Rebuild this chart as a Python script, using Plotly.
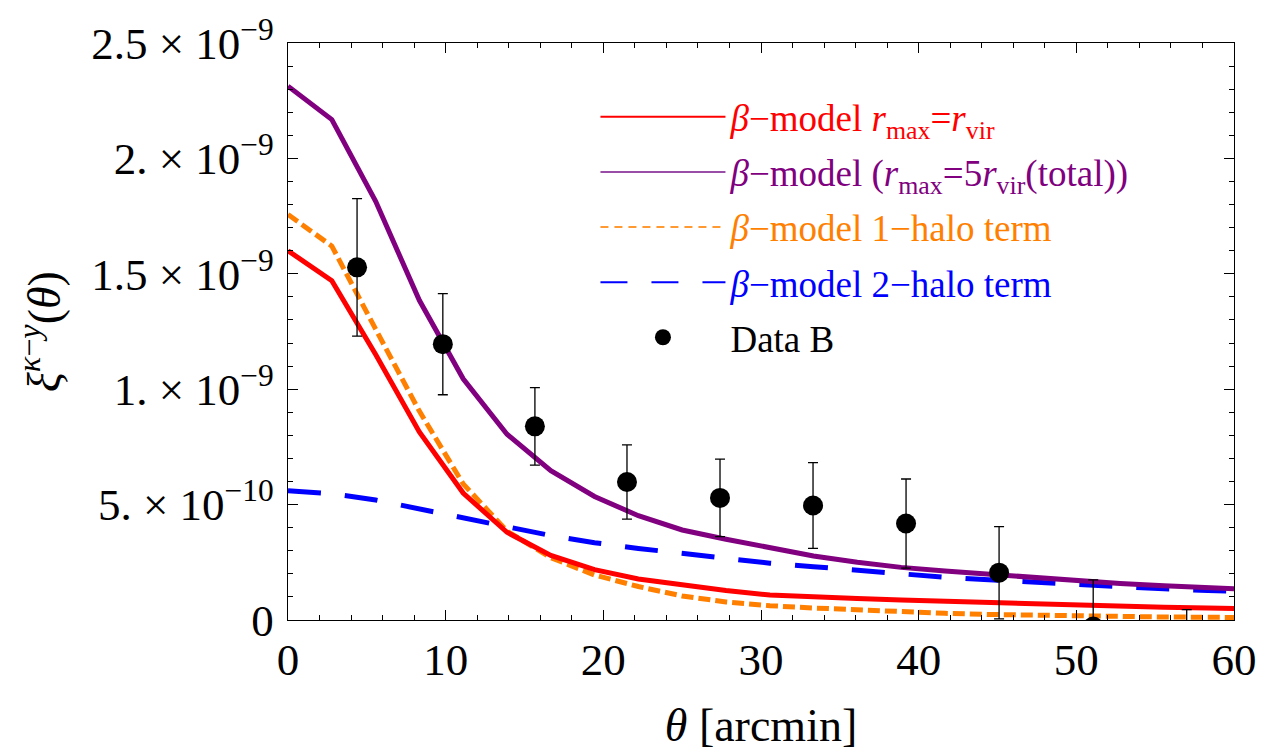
import plotly.graph_objects as go

# ---- data ----
theta = [0, 2.78, 5.56, 8.33, 11.11, 13.89, 16.67, 19.44, 22.22, 25.0, 27.78,
         30.56, 33.33, 36.11, 38.89, 41.67, 44.44, 47.22, 50.0, 52.78, 55.56, 58.33, 60]

red_rvir = [1.60e-9, 1.47e-9, 1.15e-9, 0.815e-9, 0.55e-9, 0.38e-9, 0.28e-9, 0.218e-9,
            0.178e-9, 0.152e-9, 0.128e-9, 0.108e-9, 0.099e-9, 0.093e-9, 0.087e-9,
            0.081e-9, 0.075e-9, 0.068e-9, 0.063e-9, 0.059e-9, 0.055e-9, 0.052e-9, 0.050e-9]

purple_total = [2.313e-9, 2.168e-9, 1.814e-9, 1.385e-9, 1.045e-9, 0.805e-9, 0.647e-9,
                0.535e-9, 0.452e-9, 0.39e-9, 0.35e-9, 0.312e-9, 0.277e-9, 0.25e-9,
                0.228e-9, 0.212e-9, 0.199e-9, 0.184e-9, 0.168e-9, 0.158e-9, 0.148e-9,
                0.14e-9, 0.135e-9]

orange_1halo = [1.757e-9, 1.62e-9, 1.26e-9, 0.905e-9, 0.59e-9, 0.385e-9, 0.27e-9,
                0.195e-9, 0.145e-9, 0.104e-9, 0.078e-9, 0.062e-9, 0.052e-9, 0.043e-9,
                0.035e-9, 0.029e-9, 0.024e-9, 0.020e-9, 0.017e-9, 0.015e-9, 0.013e-9,
                0.012e-9, 0.011e-9]

blue_2halo = [0.56e-9, 0.547e-9, 0.52e-9, 0.483e-9, 0.445e-9, 0.404e-9, 0.366e-9,
              0.335e-9, 0.31e-9, 0.287e-9, 0.266e-9, 0.246e-9, 0.231e-9, 0.214e-9,
              0.197e-9, 0.185e-9, 0.174e-9, 0.163e-9, 0.152e-9, 0.143e-9, 0.135e-9,
              0.128e-9, 0.124e-9]

data_theta = [4.38, 9.82, 15.66, 21.5, 27.4, 33.3, 39.2, 45.1, 51.07, 57.0]
data_xi = [1.528e-9, 1.195e-9, 0.839e-9, 0.598e-9, 0.529e-9, 0.496e-9, 0.418e-9,
           0.205e-9, -0.028e-9, -0.155e-9]
data_err = [0.298e-9, 0.219e-9, 0.168e-9, 0.161e-9, 0.168e-9, 0.186e-9, 0.193e-9,
            0.200e-9, 0.202e-9, 0.200e-9]

y_tickvals = [0, 5e-10, 1e-9, 1.5e-9, 2e-9, 2.5e-9]
y_ticktext = ["0", "5. × 10<sup>−10</sup>", "1. × 10<sup>−9</sup>", "1.5 × 10<sup>−9</sup>",
              "2. × 10<sup>−9</sup>", "2.5 × 10<sup>−9</sup>"]
x_tickvals = [0, 10, 20, 30, 40, 50, 60]

names = [
    '<span style="color:#FF0000"><i>β</i>−model <i>r</i><sub>max</sub>=<i>r</i><sub>vir</sub></span>',
    '<span style="color:#800080"><i>β</i>−model (<i>r</i><sub>max</sub>=5<i>r</i><sub>vir</sub>(total))</span>',
    '<span style="color:#FF8000"><i>β</i>−model 1−halo term</span>',
    '<span style="color:#0000FF"><i>β</i>−model 2−halo term</span>',
    'Data B',
]

FONT = "Liberation Serif, Times New Roman, serif"

fig = go.Figure()

# plotted curves
fig.add_trace(go.Scatter(x=theta, y=orange_1halo, mode="lines", showlegend=False,
                         line=dict(color="#FF8000", width=5, dash="12px,5px")))
fig.add_trace(go.Scatter(x=theta, y=red_rvir, mode="lines", showlegend=False,
                         line=dict(color="#FF0000", width=5)))
fig.add_trace(go.Scatter(x=theta, y=blue_2halo, mode="lines", showlegend=False,
                         line=dict(color="#0000FF", width=5, dash="33px,24px")))
fig.add_trace(go.Scatter(x=theta, y=purple_total, mode="lines", showlegend=False,
                         line=dict(color="#800080", width=5)))
fig.add_trace(go.Scatter(x=data_theta, y=data_xi, mode="markers", showlegend=False,
                         marker=dict(color="black", size=20),
                         error_y=dict(type="data", array=data_err, color="black",
                                      thickness=1.3, width=5)))

# legend entries
fig.add_trace(go.Scatter(x=[None], y=[None], mode="lines", name=names[0], legendgroup="a",
                         line=dict(color="#FF0000", width=2)))
fig.add_trace(go.Scatter(x=[None], y=[None], mode="lines", name=names[1], legendgroup="b",
                         line=dict(color="#9A4DA6", width=2)))
fig.add_trace(go.Scatter(x=[None], y=[None], mode="lines", name=names[2], legendgroup="c",
                         line=dict(color="#FF9A33", width=2, dash="8px,6px")))
fig.add_trace(go.Scatter(x=[None], y=[None], mode="lines", name=names[3], legendgroup="d",
                         line=dict(color="#0000FF", width=2, dash="27px,24px")))
fig.add_trace(go.Scatter(x=[None], y=[None], mode="markers", name=names[4], legendgroup="e",
                         marker=dict(color="black", size=22)))

axis_common = dict(
    showline=True, linecolor="black", linewidth=1.3, mirror="allticks",
    ticks="inside", ticklen=10, tickwidth=1.2, tickcolor="black",
    showgrid=False, zeroline=False,
    tickfont=dict(family=FONT, size=45, color="black"),
)

fig.update_xaxes(range=[0, 60], tickvals=x_tickvals,
                 minor=dict(ticks="inside", ticklen=5, dtick=2, tick0=0, tickcolor="black",
                            tickwidth=1, showgrid=False),
                 title=dict(text="<i>θ</i> [arcmin]", font=dict(family=FONT, size=46, color="black"),
                            standoff=24),
                 ticklabelstandoff=0,
                 **axis_common)
fig.update_yaxes(range=[0, 2.5e-9], tickvals=y_tickvals, ticktext=y_ticktext,
                 minor=dict(ticks="inside", ticklen=5, dtick=1e-10, tick0=0, tickcolor="black",
                            tickwidth=1, showgrid=False),
                 title=dict(text="<i>ξ</i><sup><i>κ</i>−<i>y</i></sup>(<i>θ</i>)",
                            font=dict(family=FONT, size=46, color="black"), standoff=16),
                 ticklabelstandoff=4,
                 **axis_common)

fig.update_layout(
    width=1269, height=755,
    margin=dict(l=288, r=26, t=32, b=135),
    paper_bgcolor="white", plot_bgcolor="white",
    font=dict(family=FONT, color="black"),
    legend=dict(x=0.325, y=0.925, xanchor="left", yanchor="top",
                bgcolor="rgba(0,0,0,0)", borderwidth=0,
                font=dict(family=FONT, size=37, color="black"),
                itemwidth=125, tracegroupgap=4),
)

fig.write_html("out.html")
